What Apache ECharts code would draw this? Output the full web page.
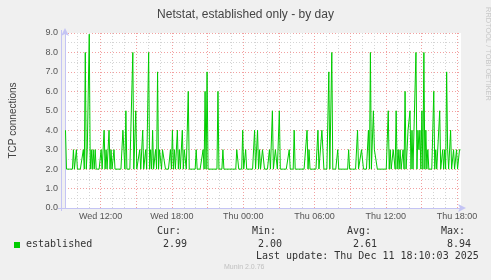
<!DOCTYPE html>
<html>
<head>
<meta charset="utf-8">
<script src="https://cdn.jsdelivr.net/npm/echarts@6/dist/echarts.min.js"></script>
<style>
html,body{margin:0;padding:0;background:#f0f0f0;}
#chart{width:491px;height:280px;}
</style>
</head>
<body>
<div id="chart"></div>
<script>
// 5-minute samples starting Wed 09:00 (400 samples, one per pixel)
const established = [
  4,2,2,2,2,2,2,2,3,2, 2,3,2,2,2,2,2,2,3,2,
  8,2,3,3,8.94,2,3,2,3,2, 3,2,2,2,2,2,3,2,2,4,
  2,3,2,2,4,2,3,2,2,3, 2,2,2,2,2,2,2,2,4,4,
  2,5,2,2,2,2,2,2,8,2, 2,5,2,2,2,3,2,2,4,2,
  2,3,2,2,8,2,3,2,4,2, 2,3,2,7,2,3,3,2,3,3,
  3,2,2,2,2,2,3,2,4,2, 3,2,2,4,2,3,2,2,4,2,
  3,3,2,2,6,2,2,2,2,2, 2,2,3,2,2,2,2,2,2,3,
  2,6,2,7,2,2,2,2,2,2, 2,2,2,2,6,2,2,2,2,3,
  2,2,2,2,2,2,2,2,2,2, 2,2,2,3,3,2,2,2,2,4,
  2,2,3,2,2,2,2,2,2,2, 2,4,2,2,4,2,3,2,2,3,
  3,2,2,2,2,2,3,2,2,5, 2,2,3,3,2,2,5,2,2,2,
  2,2,2,2,2,2,3,2,2,2, 2,4,2,2,2,2,2,2,2,2,
  2,2,2,2,4,2,3,2,2,2, 2,2,2,2,2,4,2,2,2,4,
  3,2,2,2,2,2,7,2,2,8, 2,2,2,2,2,3,2,2,2,2,
  2,2,2,2,2,2,3,2,2,2, 2,2,2,2,2,4,2,2,2,3,
  3,2,2,2,2,2,4,2,8,2, 2,5,3,3,3,2,2,2,2,2,
  2,2,2,2,2,2,5,2,3,2, 2,3,3,2,5,2,3,2,3,2,
  2,3,2,6,2,2,4,4,5,2, 4,2,2,2,8,2,4,3,4,2,
  5,2,8,2,4,2,3,2,2,2, 2,2,6,2,3,2,2,2,5,2,
  2,3,2,3,2,7,3,2,2,4, 2,2,3,2,2,3,2,2,3,2.99
];
const tickLabels = ['Wed 12:00','Wed 18:00','Thu 00:00','Thu 06:00','Thu 12:00','Thu 18:00'];
const tickHours = [3, 9, 15, 21, 27, 33]; // hours after Wed 09:00
const statNames = ['Cur:','Min:','Avg:','Max:'];
const statValues = ['2.99','2.00','2.61','8.94'];
const seriesName = 'established';

const SAMPLES_PER_HOUR = 12;
const labelAt = {};
tickHours.forEach((h, k) => { labelAt[h * SAMPLES_PER_HOUR] = tickLabels[k]; });
const points = established.map((v, i) => [i + 0.5, v]);

const chart = echarts.init(document.getElementById('chart'), null, {renderer: 'canvas'});
const major = '#f2a0a0', minor = '#d4d4d4', axisCol = '#c4c4f4';
const monoFont = '"DejaVu Sans Mono", monospace';
const txt = '#333';
const statX = [157, 252, 347, 441];
const graphics = [];
statNames.forEach((n, k) => {
  graphics.push({type:'text', left: statX[k], top: 226, style:{text:n, font:'10px ' + monoFont, fill: txt}});
  graphics.push({type:'text', left: statX[k] + 6, top: 239, style:{text:statValues[k], font:'10px ' + monoFont, fill: txt}});
});
graphics.push(
  {type:'rect', shape:{x:14, y:242, width:6, height:6}, style:{fill:'#00cc00'}},
  {type:'text', left: 26, top: 239, style:{text: seriesName, font:'10px ' + monoFont, fill: txt}},
  {type:'text', left: 256, top: 251, style:{text:'Last update: Thu Dec 11 18:10:03 2025', font:'10px ' + monoFont, fill: txt}},
  {type:'text', left: 224, top: 264, style:{text:'Munin 2.0.76', font:'7px "Liberation Sans", Arial, sans-serif', fill:'#c0c0c0'}},
  {type:'text', x: 488, y: 54, rotation: -Math.PI/2,
    style:{text:'RRDTOOL / TOBI OETIKER', font:'7.4px "Liberation Sans", Arial, sans-serif', fill:'#c8c8c8', align:'center', verticalAlign:'middle'}},
  {type:'line', shape:{x1:58, y1:208.5, x2:464, y2:208.5}, style:{stroke:axisCol, lineWidth:1}},
  {type:'line', shape:{x1:61.5, y1:211, x2:61.5, y2:30}, style:{stroke:axisCol, lineWidth:1}}
);

chart.setOption({
  backgroundColor: '#f0f0f0',
  animation: false,
  title: {
    text: 'Netstat, established only - by day',
    left: 'center', top: 4,
    textStyle: {fontFamily: '"Liberation Sans", Arial, sans-serif', fontSize: 12, fontWeight: 'normal', color: '#444'}
  },
  grid: {left: 61, right: 30, top: 33, bottom: 72, show: true, backgroundColor: '#ffffff', borderWidth: 0},
  xAxis: {
    type: 'value', min: 0, max: 400, interval: SAMPLES_PER_HOUR,
    axisLine: {show: true, symbol: ['none','arrow'], symbolSize: [6, 8], symbolOffset: [0, 5], lineStyle: {color: axisCol}},
    axisTick: {show: false},
    axisLabel: {
      margin: 4, color: '#555', fontSize: 9, fontFamily: '"Liberation Sans", Arial, sans-serif',
      showMinLabel: false, showMaxLabel: false,
      formatter: v => labelAt[Math.round(v)] || ''
    },
    splitLine: {show: true, showMinLine: true, showMaxLine: false, lineStyle: {color: [major, minor, minor], type: [1, 2], width: 1}}
  },
  yAxis: {
    type: 'value', min: 0, max: 9, interval: 0.5,
    name: 'TCP connections', nameLocation: 'middle', nameGap: 47, nameRotate: 90,
    nameTextStyle: {color: '#444', fontSize: 10, fontFamily: '"Liberation Sans", Arial, sans-serif'},
    axisLine: {show: true, symbol: ['none','arrow'], symbolSize: [6, 8], symbolOffset: [0, 5], lineStyle: {color: axisCol}},
    axisTick: {show: false},
    axisLabel: {
      margin: 7, color: '#555', fontSize: 9, fontFamily: '"Liberation Sans", Arial, sans-serif',
      formatter: v => (Math.abs(v - Math.round(v)) < 1e-6 ? v.toFixed(1) : '')
    },
    splitLine: {show: true, showMinLine: true, lineStyle: {color: [major, minor], type: [1, 2], width: 1}}
  },
  series: [{
    name: seriesName, type: 'line', data: points, showSymbol: false, symbol: 'none',
    lineStyle: {color: '#00cc00', width: 1}, z: 3
  }],
  graphic: graphics
});
</script>
</body>
</html>
